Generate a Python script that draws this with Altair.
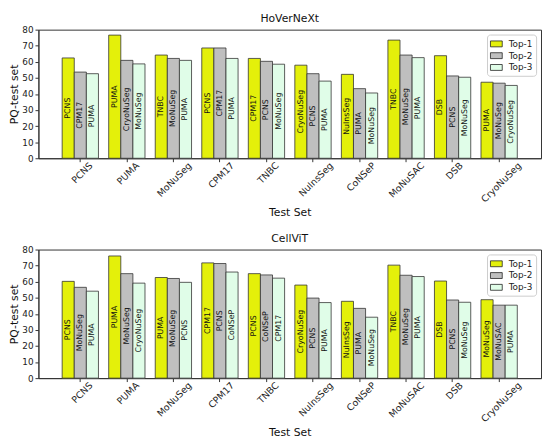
import altair as alt
import pandas as pd

sets = ["PCNS", "PUMA", "MoNuSeg", "CPM17", "TNBC", "NuInsSeg", "CoNSeP", "MoNuSAC", "DSB", "CryoNuSeg"]
ranks = ["Top-1", "Top-2", "Top-3"]

hov_top1 = [62.4, 76.6, 64.2, 68.6, 62.1, 57.9, 52.2, 73.5, 63.8, 47.3]
hov_top2 = [53.6, 60.9, 62.1, 68.6, 60.3, 52.6, 43.3, 64.2, 51.2, 46.7]
hov_top3 = [52.6, 58.7, 60.9, 62.1, 58.5, 48.0, 40.6, 62.6, 50.4, 45.3]
hov_lab1 = ["PCNS", "PUMA", "TNBC", "PCNS", "CPM17", "CryoNuSeg", "NuInsSeg", "TNBC", "DSB", "PUMA"]
hov_lab2 = ["CPM17", "CryoNuSeg", "MoNuSeg", "CPM17", "PCNS", "PCNS", "PUMA", "MoNuSeg", "PCNS", "MoNuSeg"]
hov_lab3 = ["PUMA", "MoNuSeg", "PUMA", "PUMA", "MoNuSeg", "PUMA", "MoNuSeg", "PUMA", "MoNuSeg", "CryoNuSeg"]

cell_top1 = [60.2, 76.0, 62.6, 71.7, 65.0, 57.9, 47.8, 70.3, 60.4, 48.8]
cell_top2 = [56.5, 65.0, 62.0, 71.3, 64.2, 49.8, 43.4, 64.0, 48.6, 45.4]
cell_top3 = [54.1, 59.1, 59.6, 66.0, 62.2, 47.0, 37.9, 63.2, 47.2, 45.4]
cell_lab1 = ["PCNS", "PUMA", "PUMA", "CPM17", "PCNS", "CryoNuSeg", "NuInsSeg", "TNBC", "DSB", "MoNuSeg"]
cell_lab2 = ["MoNuSeg", "MoNuSeg", "MoNuSeg", "PCNS", "CoNSeP", "PCNS", "PUMA", "MoNuSeg", "PCNS", "MoNuSAC"]
cell_lab3 = ["PUMA", "CryoNuSeg", "PCNS", "CoNSeP", "CPM17", "PUMA", "MoNuSeg", "PUMA", "MoNuSeg", "PUMA"]

yticks = [0, 10, 20, 30, 40, 50, 60, 70, 80]
colors = ["#e4f00a", "#bfbfbf", "#e0fde8"]
FONT = "DejaVu Sans"


def make_df(tops, labs):
    rows = []
    for r, vals, ls in zip(ranks, tops, labs):
        for s, v, l in zip(sets, vals, ls):
            rows.append({"set": s, "rank": r, "value": v, "label": l, "half": v / 2})
    return pd.DataFrame(rows)


y_axis = alt.Axis(
    title="PQ-test set",
    values=yticks,
    tickCount=9,
    labelOverlap=False,
    grid=False,
    labelFontSize=9,
    titleFontSize=11,
    titleFontWeight="normal",
    titlePadding=2,
    tickSize=3.5,
    labelPadding=2,
    labelColor="#222",
    titleColor="#111",
    domainColor="#333",
    tickColor="#333",
)
y_scale = alt.Scale(domain=[0, 80], nice=False)


def panel(df, title):
    base = alt.Chart(df).encode(
        x=alt.X(
            "set:N",
            sort=sets,
            scale=alt.Scale(paddingInner=0.22, paddingOuter=0.51),
            axis=alt.Axis(
                title="Test Set",
                labelAngle=-45,
                labelAlign="right",
                labelBaseline="middle",
                labelOffset=alt.ExprRef(expr="length(datum.label)*2.0+3"),
                labelPadding=2,
                labelFontSize=9.5,
                titleFontSize=11,
                titleFontWeight="normal",
                titlePadding=3,
                tickSize=3.5,
                labelColor="#222",
                titleColor="#111",
                domainColor="#333",
                tickColor="#333",
            ),
        ),
        xOffset=alt.XOffset("rank:N", sort=ranks, scale=alt.Scale(paddingInner=0, paddingOuter=0)),
    )
    bars = base.mark_bar(stroke="#333", strokeWidth=0.8).encode(
        y=alt.Y("value:Q", scale=y_scale, axis=y_axis),
        color=alt.Color(
            "rank:N",
            sort=ranks,
            scale=alt.Scale(domain=ranks, range=colors),
            legend=alt.Legend(
                title=None,
                orient="top-right",
                offset=5,
                symbolType="M-1,-0.5H1V0.5H-1Z",
                symbolSize=144,
                symbolStrokeColor="#222",
                symbolStrokeWidth=0.8,
                labelFontSize=9,
                labelColor="#222",
                labelOffset=6,
                rowPadding=0,
                padding=3,
                strokeColor="#cccccc",
                fillColor="white",
                cornerRadius=3,
            ),
        ),
    )
    text = base.mark_text(
        angle=270, align="center", baseline="middle", fontSize=8, font=FONT, color="#111"
    ).encode(
        y=alt.Y("half:Q", scale=y_scale, axis=y_axis),
        text="label:N",
    )
    return alt.layer(bars, text).properties(
        width=512,
        height=131,
        title=alt.Title(title, fontSize=11, fontWeight="normal", font=FONT, offset=2,
                        frame="group", color="#111"),
    )


top = panel(make_df([hov_top1, hov_top2, hov_top3], [hov_lab1, hov_lab2, hov_lab3]), "HoVerNeXt")
bottom = panel(make_df([cell_top1, cell_top2, cell_top3], [cell_lab1, cell_lab2, cell_lab3]), "CellViT")

chart = (
    alt.vconcat(top, bottom, spacing=14)
    .resolve_scale(color="independent")
    .resolve_legend(color="independent")
    .properties(padding=0)
    .configure(font=FONT)
    .configure_view(stroke="#333", strokeWidth=1)
)

chart.save("out.html", embed_options={"renderer": "svg", "actions": False})
